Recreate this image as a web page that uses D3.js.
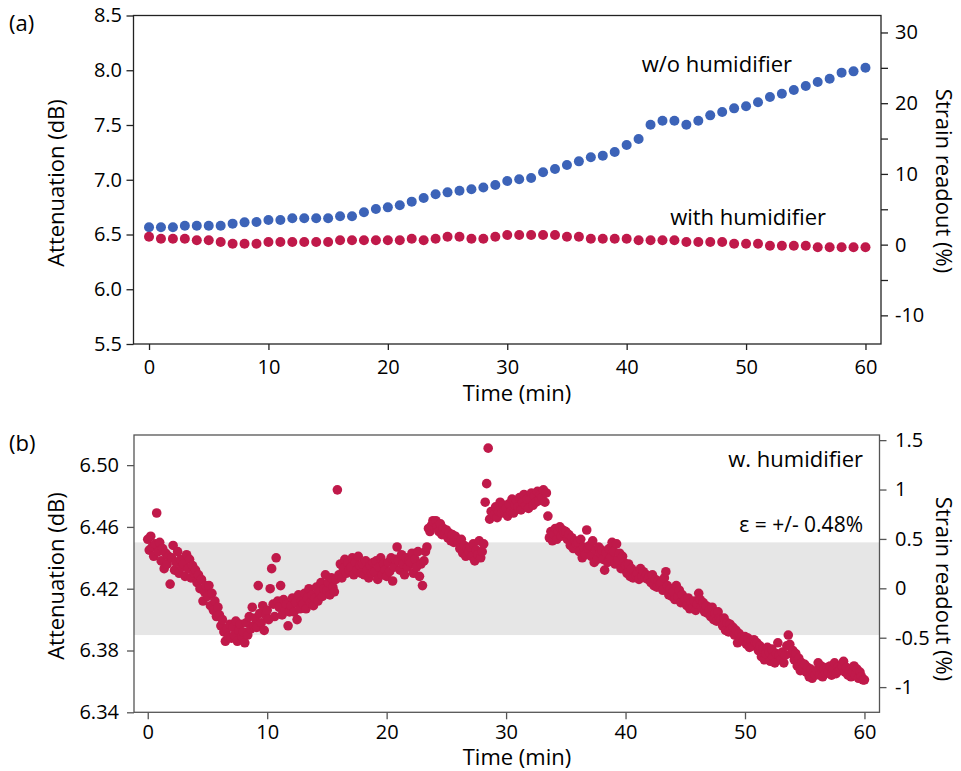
<!DOCTYPE html>
<html lang="en">
  <head>
    <meta charset="UTF-8" />
    <title>Attenuation and strain readout over time</title>
    <style>
      body { margin: 0; background: #fff; }
      svg text { font-family: "Open Sans", sans-serif; fill: #000; }
      .tick text { font-size: 20px; }
      .label { font-size: 22px; }
    </style>
  </head>
  <body>
    <svg id="svg" width="961" height="771"></svg>
    <script src="https://cdn.jsdelivr.net/npm/d3@7"></script>
    <script>
      // ---- data ----
      // (a) one reading per minute
      const timeA = d3.range(0, 61);
      const withoutHumid = [
        6.566, 6.566, 6.566, 6.58, 6.58, 6.58, 6.58, 6.599, 6.611, 6.614,
        6.632, 6.632, 6.648, 6.648, 6.648, 6.648, 6.666, 6.666, 6.703, 6.733,
        6.748, 6.767, 6.8, 6.833, 6.867, 6.885, 6.9, 6.913, 6.93, 6.952,
        6.988, 7.004, 7.016, 7.068, 7.098, 7.135, 7.168, 7.205, 7.22, 7.253,
        7.317, 7.372, 7.503, 7.539, 7.539, 7.503, 7.539, 7.588, 7.619, 7.652,
        7.671, 7.707, 7.756, 7.786, 7.82, 7.856, 7.893, 7.923, 7.978, 7.99,
        8.023
      ];
      const withHumid = [
        6.48, 6.462, 6.462, 6.462, 6.447, 6.447, 6.432, 6.416, 6.416, 6.416,
        6.432, 6.432, 6.432, 6.432, 6.432, 6.432, 6.447, 6.447, 6.447, 6.447,
        6.447, 6.447, 6.462, 6.447, 6.462, 6.48, 6.48, 6.462, 6.462, 6.48,
        6.495, 6.495, 6.495, 6.495, 6.495, 6.48, 6.48, 6.462, 6.462, 6.462,
        6.462, 6.447, 6.447, 6.447, 6.447, 6.432, 6.432, 6.432, 6.432, 6.416,
        6.416, 6.416, 6.398, 6.398, 6.398, 6.398, 6.383, 6.383, 6.383, 6.383,
        6.383
      ];

      // (b) with humidifier, sampled every 1/8 min (one row per minute)
      const sampleStep = 0.125;
      const humidB = [
        6.452, 6.445, 6.454, 6.447, 6.441, 6.449, 6.469, 6.444, // 0
        6.450, 6.438, 6.446, 6.433, 6.443, 6.436, 6.441, 6.423,
        6.440, 6.448, 6.432, 6.437, 6.444, 6.430, 6.439, 6.434,
        6.436, 6.428, 6.442, 6.433, 6.439, 6.427, 6.435, 6.430,
        6.432, 6.424, 6.429, 6.420, 6.426, 6.412, 6.418, 6.422,
        6.415, 6.422, 6.409, 6.417, 6.406, 6.412, 6.402, 6.408, // 5
        6.403, 6.396, 6.400, 6.392, 6.386, 6.394, 6.389, 6.397,
        6.388, 6.395, 6.390, 6.399, 6.386, 6.393, 6.397, 6.389,
        6.392, 6.385, 6.398, 6.390, 6.402, 6.394, 6.408, 6.396,
        6.401, 6.395, 6.422, 6.404, 6.398, 6.409, 6.393, 6.403,
        6.406, 6.400, 6.420, 6.433, 6.410, 6.402, 6.440, 6.412, // 10
        6.408, 6.422, 6.403, 6.413, 6.406, 6.410, 6.396, 6.405,
        6.409, 6.414, 6.405, 6.411, 6.400, 6.416, 6.407, 6.412,
        6.410, 6.417, 6.407, 6.414, 6.420, 6.411, 6.416, 6.409,
        6.414, 6.421, 6.412, 6.418, 6.424, 6.415, 6.420, 6.429,
        6.419, 6.424, 6.416, 6.427, 6.421, 6.418, 6.426, 6.484, // 15
        6.429, 6.436, 6.427, 6.433, 6.439, 6.430, 6.437, 6.432,
        6.434, 6.440, 6.429, 6.437, 6.432, 6.441, 6.435, 6.430,
        6.436, 6.429, 6.438, 6.432, 6.427, 6.435, 6.430, 6.437,
        6.431, 6.438, 6.426, 6.434, 6.440, 6.429, 6.436, 6.432,
        6.428, 6.437, 6.431, 6.440, 6.425, 6.434, 6.439, 6.447, // 20
        6.438, 6.432, 6.442, 6.436, 6.429, 6.440, 6.434, 6.438,
        6.437, 6.443, 6.430, 6.439, 6.434, 6.444, 6.428, 6.436,
        6.422, 6.438, 6.444, 6.447, 6.459, 6.457, 6.461, 6.464,
        6.463, 6.464, 6.460, 6.457, 6.462, 6.455, 6.459, 6.456,
        6.458, 6.453, 6.456, 6.451, 6.455, 6.450, 6.454, 6.452, // 25
        6.450, 6.446, 6.452, 6.443, 6.448, 6.441, 6.446, 6.444,
        6.447, 6.441, 6.449, 6.438, 6.445, 6.442, 6.451, 6.440,
        6.444, 6.449, 6.476, 6.488, 6.511, 6.465, 6.470, 6.467,
        6.468, 6.473, 6.466, 6.470, 6.476, 6.469, 6.474, 6.471,
        6.472, 6.467, 6.475, 6.470, 6.478, 6.469, 6.474, 6.477, // 30
        6.473, 6.479, 6.471, 6.476, 6.481, 6.474, 6.478, 6.472,
        6.478, 6.482, 6.474, 6.480, 6.476, 6.483, 6.477, 6.481,
        6.479, 6.484, 6.476, 6.482, 6.467, 6.453, 6.457, 6.451,
        6.455, 6.459, 6.452, 6.457, 6.460, 6.454, 6.458, 6.456,
        6.457, 6.452, 6.455, 6.448, 6.453, 6.446, 6.451, 6.449, // 35
        6.450, 6.444, 6.452, 6.440, 6.447, 6.442, 6.458, 6.446,
        6.448, 6.441, 6.451, 6.437, 6.445, 6.439, 6.447, 6.443,
        6.445, 6.439, 6.432, 6.443, 6.437, 6.446, 6.440, 6.450,
        6.444, 6.436, 6.449, 6.439, 6.443, 6.433, 6.441, 6.437,
        6.435, 6.430, 6.436, 6.428, 6.433, 6.427, 6.431, 6.429, // 40
        6.430, 6.426, 6.433, 6.428, 6.431, 6.427, 6.429, 6.426,
        6.428, 6.424, 6.429, 6.422, 6.426, 6.421, 6.425, 6.423,
        6.424, 6.419, 6.427, 6.431, 6.422, 6.416, 6.420, 6.415,
        6.418, 6.413, 6.422, 6.415, 6.419, 6.411, 6.416, 6.412,
        6.413, 6.409, 6.414, 6.407, 6.411, 6.408, 6.412, 6.406, // 45
        6.410, 6.417, 6.413, 6.408, 6.411, 6.405, 6.409, 6.404,
        6.406, 6.402, 6.408, 6.400, 6.404, 6.399, 6.405, 6.401,
        6.400, 6.396, 6.401, 6.393, 6.398, 6.392, 6.397, 6.394,
        6.395, 6.390, 6.393, 6.385, 6.391, 6.387, 6.389, 6.386,
        6.389, 6.384, 6.388, 6.382, 6.386, 6.383, 6.387, 6.385, // 50
        6.385, 6.380, 6.383, 6.376, 6.381, 6.374, 6.378, 6.382,
        6.379, 6.373, 6.381, 6.376, 6.372, 6.378, 6.385, 6.377,
        6.374, 6.379, 6.372, 6.377, 6.383, 6.390, 6.384, 6.378,
        6.380, 6.374, 6.378, 6.370, 6.375, 6.367, 6.372, 6.369,
        6.371, 6.366, 6.369, 6.363, 6.368, 6.362, 6.366, 6.364, // 55
        6.367, 6.372, 6.364, 6.370, 6.363, 6.368, 6.365, 6.369,
        6.366, 6.370, 6.364, 6.368, 6.372, 6.365, 6.369, 6.367,
        6.368, 6.370, 6.373, 6.366, 6.369, 6.364, 6.367, 6.363,
        6.366, 6.370, 6.364, 6.368, 6.362, 6.366, 6.363, 6.361,
        6.361 // 60
      ];
      const bandLimits = [6.39, 6.45]; // +/- 0.48 % band

      // ticks
      const timeTicks = [0, 10, 20, 30, 40, 50, 60];
      const attenTicksA = [5.5, 6.0, 6.5, 7.0, 7.5, 8.0, 8.5];
      const strainTicksA = [-10, 0, 10, 20, 30];
      const strainMinorA = [-5, 5, 15, 25];
      const attenTicksB = [6.34, 6.38, 6.42, 6.46, 6.50];
      const strainTicksB = [-1, -0.5, 0, 0.5, 1, 1.5];

      const blue = "#3c63b8";
      const red = "#c0194a";

      const svg = d3.select("#svg");

      // panel boxes
      const boxA = { left: 133.5, right: 881, top: 15.5, bottom: 344 };
      const boxB = { left: 134, right: 879.5, top: 435, bottom: 712.3 };

      const xA = d3.scaleLinear().domain([-1.3, 61.3]).range([boxA.left, boxA.right]);
      const yA = d3.scaleLinear().domain([5.5, 8.5]).range([boxA.bottom, boxA.top]);
      const yA2 = d3.scaleLinear().domain([-14.05, 32.4]).range([boxA.bottom, boxA.top]);

      const xB = d3.scaleLinear().domain([-1.15, 61.26]).range([boxB.left, boxB.right]);
      const yB = d3.scaleLinear().domain([6.34, 6.5195]).range([boxB.bottom, boxB.top]);
      const yB2 = d3.scaleLinear().domain([-1.255, 1.552]).range([boxB.bottom, boxB.top]);

      function drawAxes(box, x, yl, yr, o) {
        const g = svg.append("g");
        g.append("g")
          .attr("transform", `translate(0,${box.bottom})`)
          .call(d3.axisBottom(x).tickValues(timeTicks).tickSize(o.xTick).tickPadding(o.xPad).tickFormat(d3.format("d")));
        g.append("g")
          .attr("transform", `translate(${box.left},0)`)
          .call(d3.axisLeft(yl).tickValues(o.leftTicks).tickSize(7).tickPadding(o.leftPad).tickFormat(o.leftFmt));
        g.append("g")
          .attr("transform", `translate(${box.right},0)`)
          .call(d3.axisRight(yr).tickValues(o.rightTicks).tickSize(7).tickPadding(o.rightPad).tickFormat((d) => String(d)));
        if (o.rightMinor) {
          g.append("g")
            .attr("transform", `translate(${box.right},0)`)
            .call(d3.axisRight(yr).tickValues(o.rightMinor).tickSize(7).tickFormat(""));
        }
        g.selectAll(".domain").remove();
        g.selectAll(".tick line").attr("stroke", o.stroke).attr("stroke-width", 1.3);
        g.append("rect")
          .attr("x", box.left)
          .attr("y", box.top)
          .attr("width", box.right - box.left)
          .attr("height", box.bottom - box.top)
          .attr("fill", "none")
          .attr("stroke", o.stroke)
          .attr("stroke-width", 1.3);
      }

      // ---- panel (a) ----
      svg.selectAll(".dotW")
        .data(timeA)
        .enter()
        .append("circle")
        .attr("cx", (d) => xA(d))
        .attr("cy", (d, i) => yA(withoutHumid[i]))
        .attr("r", 5)
        .attr("fill", blue);

      svg.selectAll(".dotH")
        .data(timeA)
        .enter()
        .append("circle")
        .attr("cx", (d) => xA(d))
        .attr("cy", (d, i) => yA(withHumid[i]))
        .attr("r", 5)
        .attr("fill", red);

      drawAxes(boxA, xA, yA, yA2, {
        xTick: 6, xPad: 9.5, leftTicks: attenTicksA, leftPad: 4.5, leftFmt: d3.format(".1f"),
        rightTicks: strainTicksA, rightMinor: strainMinorA, rightPad: 7, stroke: "#222"
      });

      // ---- panel (b) ----
      svg.append("rect")
        .attr("x", boxB.left)
        .attr("width", boxB.right - boxB.left)
        .attr("y", yB(bandLimits[1]))
        .attr("height", yB(bandLimits[0]) - yB(bandLimits[1]))
        .attr("fill", "#e6e6e6");

      svg.append("g")
        .selectAll("circle")
        .data(humidB)
        .enter()
        .append("circle")
        .attr("cx", (d, i) => xB(i * sampleStep))
        .attr("cy", (d) => yB(d))
        .attr("r", 4.8)
        .attr("fill", red);

      drawAxes(boxB, xB, yB, yB2, {
        xTick: 7, xPad: 6, leftTicks: attenTicksB, leftPad: 8, leftFmt: d3.format(".2f"),
        rightTicks: strainTicksB, rightPad: 8.5, stroke: "#555"
      });

      // ---- labels ----
      function label(txt, x, y, anchor, rot) {
        const t = svg.append("text")
          .attr("class", "label")
          .attr("text-anchor", anchor)
          .text(txt);
        if (rot) t.attr("transform", `translate(${x},${y}) rotate(${rot})`);
        else t.attr("x", x).attr("y", y);
        return t;
      }

      label("(a)", 9, 31, "start");
      label("(b)", 9, 451, "start");

      label("Attenuation (dB)", 64, 183, "middle", -90);
      label("Attenuation (dB)", 64, 576, "middle", -90);
      label("Strain readout (%)", 936, 181, "middle", 90);
      label("Strain readout (%)", 936, 589, "middle", 90);
      label("Time (min)", 517, 401, "middle");
      label("Time (min)", 517, 765, "middle");

      label("w/o humidifier", 792, 72, "end");
      label("with humidifier", 826, 225, "end");
      label("w. humidifier", 863, 467, "end");
      label("\u03b5 = +/- 0.48%", 863, 532, "end").style("font-size", "21px");
    </script>
  </body>
</html>
